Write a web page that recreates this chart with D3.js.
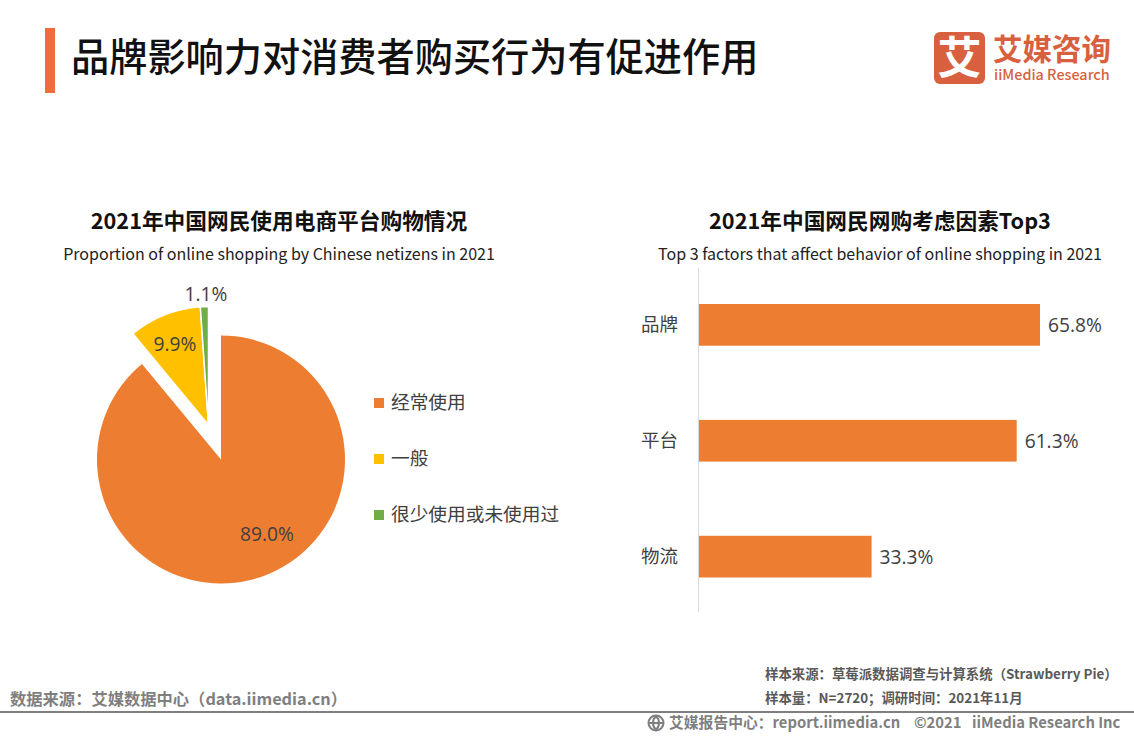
<!DOCTYPE html>
<html><head><meta charset="utf-8">
<script src="https://cdn.jsdelivr.net/npm/d3@7/dist/d3.min.js"></script>
<style>html,body{margin:0;padding:0;background:#fff}svg{display:block}text{font-family:"Noto Sans CJK SC","Noto Sans",sans-serif}</style>
</head><body><svg id="c" width="1134" height="737"></svg>
<script>
const title = "品牌影响力对消费者购买行为有促进作用";
const pieTitle = "2021年中国网民使用电商平台购物情况";
const pieSubtitle = "Proportion of online shopping by Chinese netizens in 2021";
const barTitle = "2021年中国网民网购考虑因素Top3";
const barSubtitle = "Top 3 factors that affect behavior of online shopping in 2021";
const pieCategories = ["经常使用","一般","很少使用或未使用过"];
const pieValues = [89.0,9.9,1.1];
const pieColors = ["#ed7d31","#ffc000","#70ad47"];
const barCategories = ["品牌","平台","物流"];
const barValues = [65.8,61.3,33.3];

const svg = d3.select("#c");
const T = (x,y,s,size,fill,opts={}) => svg.append("text").attr("x",x).attr("y",y).text(s)
  .attr("font-size",size).attr("fill",fill).attr("text-anchor",opts.anchor||"start")
  .attr("font-weight",opts.weight||400).style("font-family",opts.family||null);

// header
svg.append("rect").attr("x",45).attr("y",28).attr("width",10).attr("height",65).attr("fill","#f26b3a");
T(71,71,title,38.2,"#111",{weight:500});

// logo
svg.append("rect").attr("x",934).attr("y",32).attr("width",51).attr("height",52).attr("rx",6).attr("fill","#d9603f");
T(959.5,74,"艾",44,"#fff",{anchor:"middle",weight:700});
T(993,60,"艾媒咨询",29.5,"#d9603f",{weight:700});
T(994,80,"iiMedia Research",14.4,"#d9603f",{weight:500});

// chart headings
T(279,229,pieTitle,21.7,"#111",{anchor:"middle",weight:700});
T(279,260,pieSubtitle,16,"#222",{anchor:"middle"});
T(880,229,barTitle,21.7,"#111",{anchor:"middle",weight:700});
T(880,260,barSubtitle,16,"#222",{anchor:"middle"});

// pie
const cx=221, cy=459.5, R=124, explodedR=118.5, explodeX=-12.5, explodeY=-34.5;
const pie = d3.pie().sort(null).value(d=>d)(pieValues);
const arc = d3.arc().innerRadius(0).outerRadius(d=>d.index?explodedR:R);
const g = svg.append("g").attr("transform",`translate(${cx},${cy})`);
g.selectAll("path").data(pie).join("path")
  .attr("d",arc).attr("fill",(d,i)=>pieColors[i])
  .attr("stroke","#fff").attr("stroke-width",d=>d.index?1.5:0)
  .attr("transform",d=>d.index?`translate(${explodeX},${explodeY})`:null);
const pieLabelPos = [[267,541],[175,351],[206,301]];
pieValues.forEach((v,i)=>T(pieLabelPos[i][0],pieLabelPos[i][1],v.toFixed(1)+"%",19.2,"#404040",{anchor:"middle",family:'"Open Sans",sans-serif'}));

// pie legend
const legendY = d3.scalePoint().domain(pieCategories).range([403,515]);
pieCategories.forEach((c,i)=>{
  svg.append("rect").attr("x",374).attr("y",legendY(c)-5).attr("width",10).attr("height",10).attr("fill",pieColors[i]);
  T(391,legendY(c)+6,c,18.7,"#404040");
});

// bars
const x = d3.scaleLinear().domain([0,65.8]).range([699,1040]);
const y = d3.scaleBand().domain(barCategories).range([304,577.5]).paddingInner(0.64).paddingOuter(0);
svg.append("line").attr("x1",698.5).attr("x2",698.5).attr("y1",268).attr("y2",612).attr("stroke","#d9d9d9");
svg.selectAll("rect.bar").data(barValues).join("rect").attr("class","bar")
  .attr("x",x(0)).attr("y",(d,i)=>y(barCategories[i]))
  .attr("width",d=>x(d)-x(0)).attr("height",y.bandwidth()).attr("fill","#ed7d31");
barValues.forEach((v,i)=>{
  const m=y(barCategories[i])+y.bandwidth()/2;
  T(x(v)+8,m+7,v.toFixed(1)+"%",19.2,"#404040",{family:'"Open Sans",sans-serif'});
  T(678,m+6,barCategories[i],18.5,"#404040",{anchor:"end"});
});

// footer
T(10,705,"数据来源：艾媒数据中心（data.iimedia.cn）",16.3,"#7f7f7f",{weight:700});
T(765,679,"样本来源：草莓派数据调查与计算系统（Strawberry Pie）",13.4,"#595959",{weight:700});
T(765,703,"样本量：N=2720；调研时间：2021年11月",13.4,"#595959",{weight:700});
svg.append("rect").attr("x",0).attr("y",711).attr("width",1134).attr("height",2).attr("fill","#7f7f7f");
const icon = svg.append("g").attr("transform","translate(656,723)").attr("fill","none").attr("stroke","#7f7f7f").attr("stroke-width",2);
icon.append("circle").attr("r",7.5);
icon.append("path").attr("d","M-7 0H7M0-7C-4-3-4 3 0 7M0-7C4-3 4 3 0 7");
T(669,728,"艾媒报告中心：report.iimedia.cn",14.8,"#7f7f7f",{weight:700});
T(914,728,"©2021",14.8,"#7f7f7f",{weight:700});
T(972,728,"iiMedia Research Inc",14.8,"#7f7f7f",{weight:700});
</script></body></html>
